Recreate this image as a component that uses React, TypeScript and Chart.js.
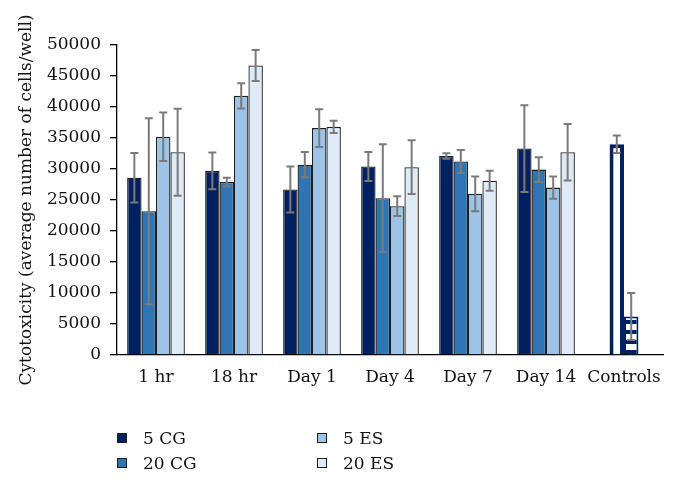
import React, { useEffect, useRef } from "react";
import { Chart, registerables } from "chart.js";

Chart.register(...registerables);

const categories = ["1 hr", "18 hr", "Day 1", "Day 4", "Day 7", "Day 14", "Controls"];
const seriesNames = ["5 CG", "20 CG", "5 ES", "20 ES"];
const cg5 = [28600, 29700, 26700, 30400, 32100, 33300, null];
const cg5Err = [4000, 2950, 3700, 2350, 450, 7000, null];
const cg20 = [23200, 27900, 30700, 25300, 31200, 29900, 34000];
const cg20Err = [15000, 700, 2050, 8700, 1850, 2000, 1400];
const es5 = [35200, 41800, 36600, 24000, 26000, 27000, 6200];
const es5Err = [3900, 2050, 3050, 1600, 2800, 1800, 3800];
const es20 = [32700, 46700, 36800, 30300, 28100, 32700, null];
const es20Err = [7000, 2500, 1000, 4350, 1600, 4550, null];
const yTicks = [0, 5000, 10000, 15000, 20000, 25000, 30000, 35000, 40000, 45000, 50000];

const colors = ["#002060", "#2e75b6", "#9dc3e6", "#deebf7"];
const NAVY = "#002060";
const FONT = "'DejaVu Serif', serif";

function makePattern(vertical: boolean): CanvasPattern | string {
  const c = document.createElement("canvas");
  c.width = vertical ? 10 : 1;
  c.height = vertical ? 1 : 10;
  const ctx = c.getContext("2d");
  if (!ctx) return NAVY;
  ctx.fillStyle = "#ffffff";
  ctx.fillRect(0, 0, c.width, c.height);
  ctx.fillStyle = NAVY;
  if (vertical) ctx.fillRect(0, 0, 5, 1);
  else ctx.fillRect(0, 0, 1, 4);
  const p = ctx.createPattern(c, "repeat");
  return p || NAVY;
}

const errorBarPlugin = {
  id: "errorBars",
  afterDatasetsDraw(chart: any) {
    const ctx = chart.ctx;
    const y = chart.scales.y;
    ctx.save();
    ctx.strokeStyle = "#7a7a7a";
    ctx.lineWidth = 2;
    chart.data.datasets.forEach((ds: any, i: number) => {
      const meta = chart.getDatasetMeta(i);
      ds.data.forEach((v: number | null, j: number) => {
        const e = ds.errors[j];
        if (v == null || e == null) return;
        const el = meta.data[j];
        const x = el.x;
        const yTop = y.getPixelForValue(v + e);
        const yBot = y.getPixelForValue(v - e);
        ctx.beginPath();
        ctx.moveTo(x, yTop);
        ctx.lineTo(x, yBot);
        ctx.moveTo(x - 4, yTop);
        ctx.lineTo(x + 4, yTop);
        ctx.moveTo(x - 4, yBot);
        ctx.lineTo(x + 4, yBot);
        ctx.stroke();
      });
    });
    ctx.restore();
  },
};

export default function App() {
  const ref = useRef<HTMLCanvasElement>(null);

  useEffect(() => {
    document.body.style.margin = "0";
    if (!ref.current) return;
    const hStripe = makePattern(false);
    const values = [cg5, cg20, es5, es20];
    const errs = [cg5Err, cg20Err, es5Err, es20Err];
    const ctrlIdx = categories.length - 1;

    const datasets = values.map((vals, i) => {
      const bg = vals.map((_, j) => {
        if (j === ctrlIdx) return i === 1 ? "#ffffff" : hStripe;
        return colors[i];
      });
      const bc = vals.map((_, j) => (j === ctrlIdx ? NAVY : "#1f1f1f"));
      const bw = vals.map((_, j) => (j === ctrlIdx ? (i === 1 ? 4 : 2) : 1.3));
      return {
        label: seriesNames[i],
        data: vals,
        errors: errs[i],
        backgroundColor: bg,
        borderColor: bc,
        borderWidth: bw,
        categoryPercentage: 0.74,
        barPercentage: 1.0,
      };
    });

    const chart = new Chart(ref.current, {
      type: "bar",
      data: { labels: categories, datasets: datasets as any },
      plugins: [errorBarPlugin],
      options: {
        animation: false,
        responsive: false,
        devicePixelRatio: 1,
        layout: { padding: { left: 0, top: 45, right: 15, bottom: 94 } },
        plugins: {
          legend: { display: false },
          tooltip: { enabled: false },
        },
        scales: {
          x: {
            grid: { display: false },
            border: { display: true, color: "#000000", width: 1.3 },
            ticks: { color: "#111111", font: { family: FONT, size: 17 }, padding: 4, maxRotation: 0 },
            afterFit: (s: any) => {
              s.height = 36;
            },
          },
          y: {
            min: 0,
            max: 50000,
            afterBuildTicks: (s: any) => {
              s.ticks = yTicks.map((v) => ({ value: v }));
            },
            grid: { display: true, drawOnChartArea: false, drawTicks: true, tickLength: 7, color: "#000000", lineWidth: 1.3 },
            border: { display: true, color: "#000000", width: 1.3 },
            ticks: {
              color: "#111111",
              font: { family: FONT, size: 17 },
              padding: 9,
              callback: (v: any) => String(v),
            },
            title: {
              display: true,
              text: "Cytotoxicity (average number of cells/well)",
              color: "#111111",
              font: { family: FONT, size: 17 },
              padding: { top: 16, bottom: 0 },
            },
            afterFit: (s: any) => {
              s.width = 117;
            },
          },
        },
      } as any,
    });
    return () => chart.destroy();
  }, []);

  const legendItem = (i: number, left: number, top: number) => (
    <div
      key={i}
      style={{ position: "absolute", left, top, display: "flex", alignItems: "center", height: 20 }}
    >
      <div
        style={{
          width: 8,
          height: 8,
          background: colors[i],
          border: "1px solid #1f1f1f",
          marginRight: 16,
        }}
      />
      <span style={{ fontFamily: FONT, fontSize: 17, color: "#111111", lineHeight: "20px" }}>
        {seriesNames[i]}
      </span>
    </div>
  );

  return (
    <div style={{ position: "relative", width: 678, height: 485, background: "#ffffff" }}>
      <canvas ref={ref} width={678} height={485} style={{ display: "block", width: 678, height: 485 }} />
      {legendItem(0, 117, 428)}
      {legendItem(1, 117, 453)}
      {legendItem(2, 317, 428)}
      {legendItem(3, 317, 453)}
    </div>
  );
}
